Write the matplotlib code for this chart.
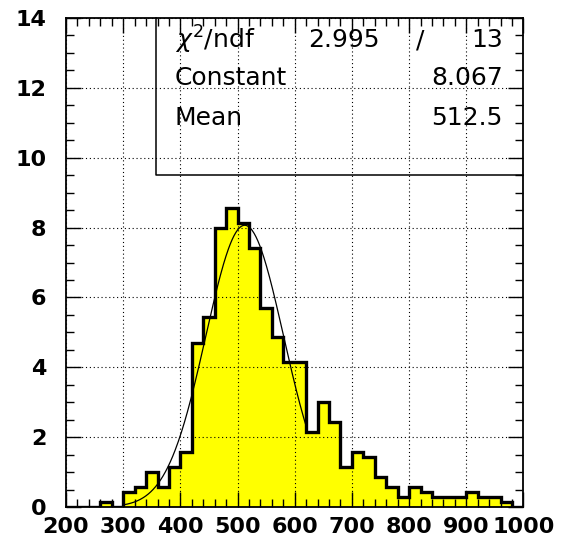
import numpy as np
import matplotlib.pyplot as plt
from matplotlib.ticker import MultipleLocator

plt.rcParams['font.family'] = ['DejaVu Sans']
plt.rcParams['mathtext.fontset'] = 'dejavusans'

# histogram: 40 bins of width 20 between 200 and 1000
bin_edges = np.arange(200, 1001, 20)
counts = [0, 0, 0, 0.14, 0, 0.43, 0.57, 1.0, 0.57, 1.14,
          1.57, 4.71, 5.43, 8.0, 8.57, 8.14, 7.43, 5.71, 4.86, 4.14,
          4.14, 2.14, 3.0, 2.43, 1.14, 1.57, 1.43, 0.86, 0.57, 0.29,
          0.57, 0.43, 0.29, 0.29, 0.29, 0.43, 0.29, 0.29, 0.14, 0]

# gaussian fit result
fit_const = 8.067
fit_mean = 512.5
fit_sigma = 68.0
fit_range = (300, 620)
chi2, ndf = 2.995, 13

fig = plt.figure(figsize=(5.70, 5.41), dpi=100)
ax = fig.add_axes([0.1158, 0.0628, 0.8026, 0.9039])

ax.stairs(counts, bin_edges, fill=True, color='#ffff00', zorder=2)
ax.stairs(counts, bin_edges, color='black', linewidth=2.4, zorder=3)

xf = np.linspace(fit_range[0], fit_range[1], 300)
yf = fit_const * np.exp(-0.5 * ((xf - fit_mean) / fit_sigma) ** 2)
ax.plot(xf, yf, color='black', linewidth=0.9, zorder=4)

ax.set_xlim(200, 1000)
ax.set_ylim(0, 14)
ax.xaxis.set_major_locator(MultipleLocator(100))
ax.xaxis.set_minor_locator(MultipleLocator(20))
ax.yaxis.set_major_locator(MultipleLocator(2))
ax.yaxis.set_minor_locator(MultipleLocator(0.5))
ax.tick_params(which='both', direction='in', top=True, right=True, width=1)
ax.tick_params(which='major', length=11)
ax.tick_params(which='minor', length=6)
ax.tick_params(axis='x', which='major', pad=7)
ax.tick_params(axis='y', which='major', pad=14)
for lab in ax.get_xticklabels() + ax.get_yticklabels():
    lab.set_fontsize(16)
    lab.set_fontweight('bold')

ax.grid(True, which='major', color='black', linestyle=(0, (1, 2.5)), linewidth=0.8, zorder=1)
ax.set_axisbelow(False)
for s in ax.spines.values():
    s.set_linewidth(1.3)
    s.set_zorder(5)

# stats box
box_left, box_bottom = 0.197, 0.679
ax.plot([box_left, box_left, 1.0], [1.0, box_bottom, box_bottom],
        transform=ax.transAxes, color='black', linewidth=1.1, clip_on=False, zorder=6)

fs = 18
rows = [0.955, 0.877, 0.795]
ax.text(0.238, rows[0], r'$\chi^{2}$/ndf', transform=ax.transAxes, fontsize=fs, va='center', ha='left')
ax.text(0.686, rows[0], f'{chi2:.3f}', transform=ax.transAxes, fontsize=fs, va='center', ha='right')
ax.text(0.774, rows[0], '/', transform=ax.transAxes, fontsize=fs, va='center', ha='center')
ax.text(0.955, rows[0], f'{ndf}', transform=ax.transAxes, fontsize=fs, va='center', ha='right')
ax.text(0.238, rows[1], 'Constant', transform=ax.transAxes, fontsize=fs, va='center', ha='left')
ax.text(0.955, rows[1], f'{fit_const:.3f}', transform=ax.transAxes, fontsize=fs, va='center', ha='right')
ax.text(0.238, rows[2], 'Mean', transform=ax.transAxes, fontsize=fs, va='center', ha='left')
ax.text(0.955, rows[2], f'{fit_mean:.1f}', transform=ax.transAxes, fontsize=fs, va='center', ha='right')

fig.savefig('out.png', dpi=100)
